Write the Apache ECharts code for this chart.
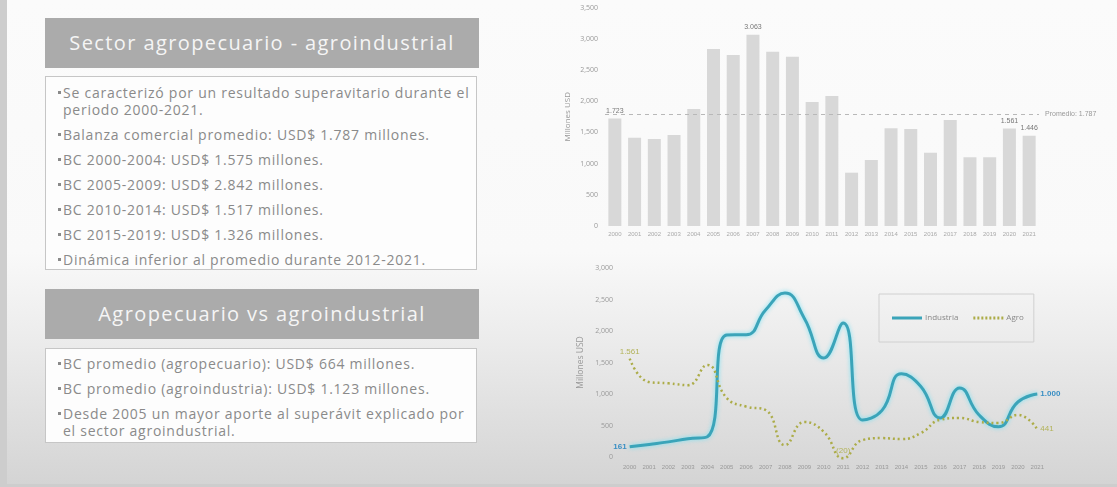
<!DOCTYPE html>
<html>
<head>
<meta charset="utf-8">
<title>Sector agropecuario - agroindustrial</title>
<script src="https://cdn.jsdelivr.net/npm/echarts@6/dist/echarts.min.js"></script>
<style>
html, body { margin: 0; padding: 0; width: 1117px; height: 487px; overflow: hidden; }
body { background: #cdcdcd; font-family: "Open Sans", sans-serif; }
.slide {
    position: absolute; left: 7px; top: 0; width: 1110px; height: 484px;
    background: linear-gradient(to bottom, #fbfbfb 0%, #f9f9f9 52%, #ececec 70%, #d4d4d4 100%);
}
.head {
    position: absolute; left: 45px; width: 434px; height: 50px;
    background: #ababab; color: #f5f5f5;
    font-size: 20px; line-height: 50px; text-align: center; letter-spacing: 1.4px;
}
.box {
    position: absolute; left: 45px; width: 432px;
    border: 1px solid #c6c6c6; background: #fdfdfd;
    color: #8a8a8a; font-size: 14px; line-height: 17px; letter-spacing: 0.75px;
}
.box div { position: relative; padding-left: 17px; margin-top: 8px; }
.box div:first-child { margin-top: 0; }
.box div::before {
    content: ""; position: absolute; left: 12px; top: 7px;
    width: 3px; height: 3px; background: #8a8a8a;
}
#chart { position: absolute; left: 0; top: 0; width: 1117px; height: 487px; }
</style>
</head>
<body>
<div class="slide"></div>

<div class="head" style="top:18px">Sector agropecuario - agroindustrial</div>
<div class="box" style="top:76px;height:194px;padding-top:7px;box-sizing:border-box">
    <div>Se caracterizó por un resultado superavitario durante el periodo 2000-2021.</div>
    <div>Balanza comercial promedio: USD$ 1.787 millones.</div>
    <div>BC 2000-2004: USD$ 1.575 millones.</div>
    <div>BC 2005-2009: USD$ 2.842 millones.</div>
    <div>BC 2010-2014: USD$ 1.517 millones.</div>
    <div>BC 2015-2019: USD$ 1.326 millones.</div>
    <div>Dinámica inferior al promedio durante 2012-2021.</div>
</div>

<div class="head" style="top:289px">Agropecuario vs agroindustrial</div>
<div class="box" style="top:348px;height:95px;padding-top:6px;box-sizing:border-box">
    <div>BC promedio (agropecuario): USD$ 664 millones.</div>
    <div>BC promedio (agroindustria): USD$ 1.123 millones.</div>
    <div>Desde 2005 un mayor aporte al superávit explicado por el sector agroindustrial.</div>
</div>

<div id="chart"></div>

<script>
// años 2000-2021
var years = ['2000', '2001', '2002', '2003', '2004', '2005', '2006', '2007', '2008', '2009', '2010',
    '2011', '2012', '2013', '2014', '2015', '2016', '2017', '2018', '2019', '2020', '2021'];

// balanza comercial del sector (millones USD)
var balanza = [1723, 1414, 1394, 1458, 1874, 2835, 2739, 3063, 2792, 2712, 1986,
    2082, 854, 1057, 1565, 1554, 1174, 1698, 1100, 1100, 1561, 1446];
var promedio = 1787;
var balanzaConEtiqueta = ['2000', '2007', '2020', '2021'];

// agroindustria vs agropecuario
var industria = [161, 200, 240, 290, 320, 1937, 1940, 2333, 2603, 2200, 1571,
    2127, 587, 740, 1320, 1120, 619, 1095, 667, 480, 873, 1000];
var agro = [1561, 1190, 1170, 1140, 1460, 936, 800, 746, 190, 555, 400,
    -20, 270, 300, 285, 380, 590, 620, 555, 540, 667, 441];
var agroConEtiqueta = ['2000', '2011', '2021'];

var ejeBarras = { max: 3500, interval: 500 };
var ejeLineas = { max: 3000, interval: 500 };

// 1723 -> "1.723", -20 -> "(20)"
function fmtPunto(v) {
    var s = String(Math.abs(v)).replace(/\B(?=(\d{3})+(?!\d))/g, '.');
    return v < 0 ? '(' + s + ')' : s;
}
function fmtComa(v) {
    return String(v).replace(/\B(?=(\d{3})+(?!\d))/g, ',');
}

var myChart = echarts.init(document.getElementById('chart'));

var barData = balanza.map(function (v, i) {
    return {
        value: v,
        label: { show: balanzaConEtiqueta.indexOf(years[i]) >= 0 }
    };
});

var last = years.length - 1;
var industriaData = industria.map(function (v, i) {
    var item = { value: v };
    if (i === 0) item.label = { show: true, position: 'left', distance: 3 };
    if (i === last) item.label = { show: true, position: 'right', distance: 3 };
    return item;
});
var agroData = agro.map(function (v, i) {
    var item = { value: v };
    if (agroConEtiqueta.indexOf(years[i]) >= 0) {
        item.label = { show: true, position: i === last ? 'right' : 'top', distance: 3 };
    }
    return item;
});

// iconos de la leyenda: línea continua y línea punteada
var iconoLinea = 'path://M0,0H30V3H0Z';
var iconoPuntos = 'path://M0,0H2V3H0Z M4,0H6V3H4Z M8,0H10V3H8Z M12,0H14V3H12Z M16,0H18V3H16Z M20,0H22V3H20Z M24,0H26V3H24Z M28,0H30V3H28Z';

var axisText = { color: '#999', fontSize: 7, fontFamily: 'Open Sans' };

var option = {
    animation: false,
    grid: [
        { left: 605, top: 7.5, width: 434, height: 218.5 },
        { left: 620, top: 268, width: 427, height: 189 }
    ],
    legend: {
        data: [
            { name: 'Industria', icon: iconoLinea },
            { name: 'Agro', icon: iconoPuntos }
        ],
        left: 879, top: 294,
        padding: [20, 10, 20, 13],
        itemWidth: 30, itemHeight: 3, itemGap: 15,
        borderColor: '#d0d0d0', borderWidth: 1,
        textStyle: { color: '#888', fontSize: 8, fontFamily: 'Open Sans', padding: [0, 0, 0, -2] }
    },
    xAxis: [
        {
            gridIndex: 0, type: 'category', data: years,
            axisLine: { show: false }, axisTick: { show: false },
            axisLabel: { color: '#aaa', fontSize: 6, margin: 5, interval: 0 }
        },
        {
            gridIndex: 1, type: 'category', data: years,
            axisLine: { show: true, lineStyle: { color: '#d8d8d8' } }, axisTick: { show: false },
            axisLabel: { color: '#999', fontSize: 6, margin: 7, interval: 0 }
        }
    ],
    yAxis: [
        {
            gridIndex: 0, type: 'value', min: 0, max: ejeBarras.max, interval: ejeBarras.interval,
            name: 'Millones USD', nameLocation: 'middle', nameGap: 33,
            nameTextStyle: { color: '#999', fontSize: 8, fontFamily: 'Open Sans' },
            splitLine: { show: false }, axisLine: { show: false }, axisTick: { show: false },
            axisLabel: Object.assign({ margin: 7, formatter: fmtComa }, axisText)
        },
        {
            gridIndex: 1, type: 'value', min: 0, max: ejeLineas.max, interval: ejeLineas.interval,
            name: 'Millones USD', nameLocation: 'middle', nameGap: 35,
            nameTextStyle: { color: '#999', fontSize: 8.5, fontFamily: 'Open Sans' },
            splitLine: { show: false }, axisLine: { show: false }, axisTick: { show: false },
            axisLabel: Object.assign({ margin: 7, formatter: fmtComa }, axisText)
        }
    ],
    series: [
        {
            name: 'Balanza', type: 'bar', xAxisIndex: 0, yAxisIndex: 0,
            data: barData, barWidth: 13,
            itemStyle: { color: '#d8d8d8' },
            label: {
                position: 'top', distance: 4, color: '#777', fontSize: 7,
                formatter: function (p) { return fmtPunto(p.value); }
            },
            markLine: {
                silent: true, symbol: 'none',
                lineStyle: { color: '#b8b8b8', type: [4, 4], width: 1.2 },
                label: {
                    position: 'end', distance: 6, color: '#999', fontSize: 7,
                    formatter: 'Promedio: ' + fmtPunto(promedio)
                },
                data: [{ yAxis: promedio }]
            }
        },
        {
            name: 'Industria', type: 'line', xAxisIndex: 1, yAxisIndex: 1,
            data: industriaData, smooth: 0.5, clip: false,
            symbol: 'circle', symbolSize: 0.1, showSymbol: true,
            color: '#3ba4b9',
            lineStyle: { color: '#3ba4b9', width: 3, shadowColor: 'rgba(110,225,245,0.9)', shadowBlur: 4 },
            label: {
                color: '#3a8fc4', fontSize: 8, fontWeight: 'bold',
                formatter: function (p) { return fmtPunto(p.value); }
            }
        },
        {
            name: 'Agro', type: 'line', xAxisIndex: 1, yAxisIndex: 1,
            data: agroData, smooth: 0.5, clip: false,
            symbol: 'circle', symbolSize: 0.1, showSymbol: true,
            color: '#acac48',
            lineStyle: { color: '#acac48', width: 2.5, type: [2, 3] },
            label: {
                color: '#b3b35a', fontSize: 8,
                formatter: function (p) { return fmtPunto(p.value); }
            }
        }
    ]
};

myChart.setOption(option);
</script>
</body>
</html>
